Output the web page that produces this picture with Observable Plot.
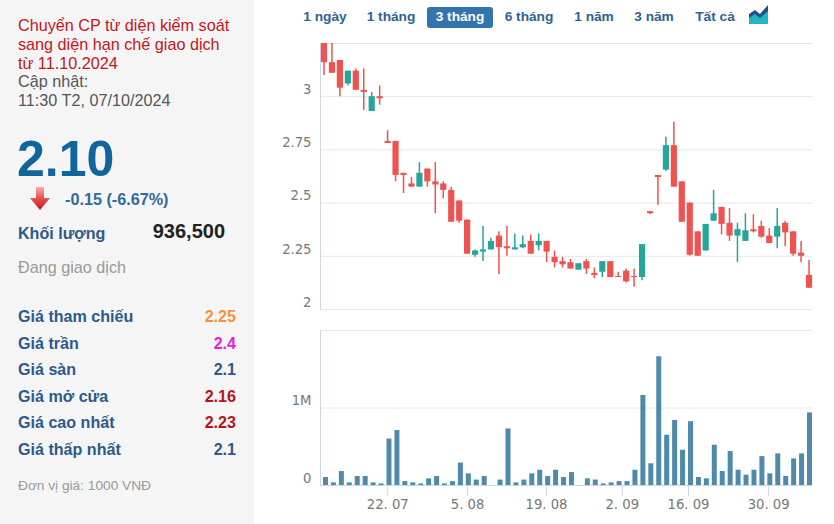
<!DOCTYPE html>
<html lang="vi">
<head>
<meta charset="utf-8">
<script src="https://cdn.jsdelivr.net/npm/d3@7"></script>
<script src="https://cdn.jsdelivr.net/npm/@observablehq/plot@0.6"></script>
<style>
html,body{margin:0;padding:0;background:#fff;width:834px;height:524px;overflow:hidden;font-family:"Liberation Sans",Arial,sans-serif}
.abs{position:absolute;white-space:nowrap;line-height:1}
#panel{position:absolute;left:0;top:0;width:254px;height:524px;background:#f5f5f5}
#notice{position:absolute;left:18px;top:16px;font-size:16.2px;line-height:18.8px;color:#555;white-space:nowrap}
#notice .red{color:#c4161c}
.lab{font-weight:bold;font-size:16.1px;color:#2c5a8c;left:18px}
.val{font-weight:bold;font-size:16.1px;right:598px}
.btn{position:absolute;top:10px;font-size:13.7px;font-weight:bold;color:#2f6294;transform:translateX(-50%);white-space:nowrap;line-height:14px}
#sel{position:absolute;left:427px;top:7px;width:66px;height:21px;border-radius:3px;background:#3274ab}
.plot{position:absolute;left:0}
svg{display:block}
</style>
</head>
<body>
<div id="panel"></div>
<div id="notice"><span class="red">Chuyển CP từ diện kiểm soát<br>sang diện hạn chế giao dịch<br>từ 11.10.2024</span><br>Cập nhật:<br>11:30 T2, 07/10/2024</div>
<div class="abs" style="left:17px;top:134px;font-size:50px;font-weight:bold;color:#0f659c">2.10</div>
<svg class="abs" style="left:29px;top:186px" width="22" height="25" viewBox="0 0 22 25"><defs><linearGradient id="ag" x1="0" y1="0" x2="0" y2="1"><stop offset="0" stop-color="#f6a9a9"/><stop offset="0.55" stop-color="#e44b4b"/><stop offset="1" stop-color="#c4161c"/></linearGradient></defs><path d="M7 1H15V12H21L11 24L1 12H7Z" fill="url(#ag)"/></svg>
<div class="abs" style="left:65px;top:191px;font-size:16.2px;font-weight:bold;color:#2f6a9c">-0.15 (-6.67%)</div>
<div class="abs lab" style="top:225px">Khối lượng</div>
<div class="abs" style="right:609px;top:221px;font-size:20px;font-weight:bold;color:#222">936,500</div>
<div class="abs" style="left:18px;top:259px;font-size:16.2px;color:#999">Đang giao dịch</div>
<div id="rows"></div>
<div class="abs" style="left:18px;top:479px;font-size:13.7px;color:#999">Đơn vị giá: 1000 VNĐ</div>
<div id="sel"></div>
<div id="btns"></div>
<svg class="abs" style="left:749px;top:5px" width="20" height="20" viewBox="0 0 20 20"><path d="M0 19V9L6 5L11 9L19 0V19Z" fill="#1f4f8f"/><path d="M0 19V13L6 9L11 13L19 6V19Z" fill="#22b5c4"/></svg>
<div id="priceChart" class="plot" style="top:0"></div>
<div id="volumeChart" class="plot" style="top:320px"></div>
<script>
const sessions = d3.range(62);
const open  = [3.25,3.16,3.17,3.06,3.12,3.03,2.93,3.00,2.79,2.79,2.64,2.59,2.575,2.66,2.60,2.59,2.56,2.51,2.42,2.255,2.27,2.28,2.345,2.295,2.28,2.29,2.32,2.30,2.32,2.245,2.225,2.22,2.185,2.225,2.17,2.175,2.225,2.155,2.18,2.155,2.15,2.46,2.63,2.655,2.77,2.60,2.50,2.365,2.275,2.415,2.48,2.405,2.345,2.32,2.375,2.39,2.345,2.34,2.405,2.365,2.265,2.16];
const close = [3.16,3.11,3.04,3.12,3.03,3.02,3.00,2.99,2.78,2.63,2.63,2.575,2.64,2.60,2.585,2.56,2.41,2.415,2.26,2.275,2.28,2.32,2.29,2.285,2.29,2.305,2.26,2.32,2.27,2.22,2.21,2.19,2.215,2.19,2.16,2.225,2.15,2.15,2.13,2.15,2.305,2.45,2.62,2.77,2.575,2.41,2.255,2.25,2.40,2.45,2.40,2.345,2.375,2.37,2.365,2.34,2.31,2.39,2.36,2.26,2.25,2.10];
const high  = [3.25,3.25,3.17,3.12,3.13,3.13,3.02,3.05,2.84,2.79,2.64,2.62,2.69,2.66,2.69,2.60,2.575,2.51,2.42,2.28,2.39,2.335,2.365,2.39,2.355,2.345,2.35,2.355,2.32,2.275,2.245,2.235,2.215,2.235,2.195,2.225,2.225,2.175,2.19,2.19,2.305,2.46,2.63,2.81,2.88,2.60,2.50,2.365,2.40,2.56,2.48,2.475,2.405,2.45,2.445,2.415,2.38,2.475,2.415,2.365,2.32,2.23];
const low   = [3.10,3.11,3.00,3.05,3.03,2.935,2.93,2.96,2.78,2.60,2.545,2.575,2.575,2.575,2.45,2.52,2.41,2.405,2.26,2.245,2.225,2.28,2.165,2.25,2.28,2.285,2.26,2.275,2.22,2.195,2.195,2.19,2.185,2.165,2.145,2.15,2.15,2.15,2.125,2.105,2.135,2.445,2.49,2.65,2.575,2.41,2.25,2.25,2.275,2.415,2.35,2.32,2.22,2.32,2.36,2.335,2.31,2.285,2.295,2.25,2.22,2.10];
const volume = [103000,34000,180000,34000,116000,116000,34000,20000,600000,710000,50000,34000,20000,86000,116000,20000,50000,290000,150000,70000,116000,0,70000,730000,34000,70000,150000,197000,116000,197000,103000,167000,0,86000,70000,20000,34000,50000,50000,197000,1163000,280000,1660000,648000,840000,455000,824000,103000,86000,520000,180000,438000,197000,133000,197000,373000,150000,408000,116000,343000,408000,936500];
const priceTicks = [2,2.25,2.5,2.75,3];
const priceGrid = [2,2.25,2.5,2.75,3,3.25];
const dateTickPositions = [7.85,17.9,27.85,37.4,45.75,55.85];
const dateTickLabels = ["22. 07","5. 08","19. 08","2. 09","16. 09","30. 09"];
const periods = ["1 ngày","1 tháng","3 tháng","6 tháng","1 năm","3 năm","Tất cả"];
const periodCenters = [325,391,460,529,594,654,715];
const statLabels = ["Giá tham chiếu","Giá trần","Giá sàn","Giá mở cửa","Giá cao nhất","Giá thấp nhất"];
const statValues = ["2.25","2.4","2.1","2.16","2.23","2.1"];
const statColors = ["#f7923a","#e91fd8","#2c5a8c","#b5121b","#b5121b","#2c5a8c"];
const rowY = [308,335,361,388,414,441];

statLabels.forEach((l,i)=>{
  document.getElementById("rows").insertAdjacentHTML("beforeend",
    `<div class="abs lab" style="top:${rowY[i]}px">${l}</div><div class="abs val" style="top:${rowY[i]}px;color:${statColors[i]}">${statValues[i]}</div>`);
});
periods.forEach((p,i)=>{
  document.getElementById("btns").insertAdjacentHTML("beforeend",
    `<div class="btn" style="left:${periodCenters[i]}px;${i===2?"color:#fff":""}">${p}</div>`);
});

const axisFont = {fontFamily:"'DejaVu Sans',sans-serif", fontSize:13.2};
const RED = "#ef5350", GREEN = "#26a69a", GRID = "#e6e6e6", AXIS = "#ccd6eb", TXT = "#777";
const colorOf = i => close[i] >= open[i] ? GREEN : RED;
const bodyLow = i => Math.min(open[i],close[i]), bodyHigh = i => Math.max(open[i],close[i]);

document.getElementById("priceChart").append(Plot.plot({
  width:834, height:320, marginLeft:320, marginRight:21.5, marginTop:43, marginBottom:11,
  style:{background:"transparent",...axisFont},
  x:{domain:[-0.44,61.5],axis:null},
  y:{domain:[2,3.25]},
  marks:[
    Plot.ruleY(priceGrid,{stroke:GRID,strokeWidth:1}),
    Plot.ruleX([-0.44],{stroke:AXIS}),
    Plot.axisY(priceTicks,{anchor:"left",tickSize:0,tickPadding:9,dy:-7,fill:TXT,label:null,tickFormat:d=>String(d)}),
    Plot.ruleX(sessions,{x:d=>d,y1:i=>low[i],y2:i=>high[i],stroke:colorOf,strokeWidth:1.5}),
    Plot.ruleX(sessions,{x:d=>d,y1:bodyLow,y2:bodyHigh,stroke:colorOf,strokeWidth:6.2})
  ]
}));

document.getElementById("volumeChart").append(Plot.plot({
  width:834, height:204, marginLeft:320, marginRight:21.5, marginTop:10, marginBottom:39,
  style:{background:"transparent",...axisFont},
  x:{domain:[-0.63,61.44]},
  y:{domain:[0,2000000]},
  marks:[
    Plot.ruleY([1000000,2000000],{stroke:GRID,strokeWidth:1}),
    Plot.ruleX([-0.63],{stroke:AXIS}),
    Plot.ruleY([0],{stroke:AXIS}),
    Plot.axisY([0,1000000],{anchor:"left",tickSize:0,tickPadding:9,dy:-7,fill:TXT,label:null,tickFormat:d=>d?d/1e6+"M":"0"}),
    Plot.axisX(dateTickPositions,{anchor:"bottom",tickSize:11,tickPadding:3,stroke:AXIS,fill:TXT,label:null,tickFormat:(d,i)=>dateTickLabels[i]}),
    Plot.ruleX(sessions,{x:d=>d,y1:0,y2:i=>volume[i],stroke:"#4f8aab",strokeWidth:5})
  ]
}));
</script>
</body>
</html>
